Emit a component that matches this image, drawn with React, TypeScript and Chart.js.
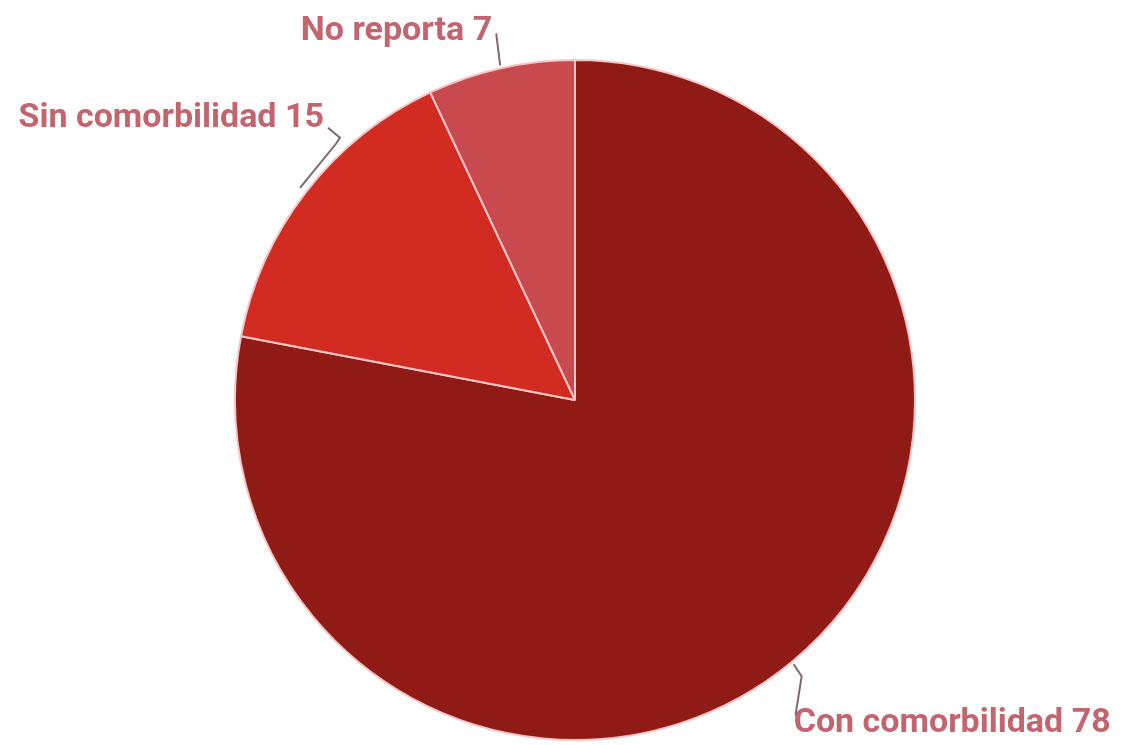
import React, { useEffect, useRef } from "react";
import { Chart, registerables } from "chart.js";

Chart.register(...registerables);

const categories = ["Con comorbilidad", "Sin comorbilidad", "No reporta"];
const values = [78, 15, 7];
const colors = ["#901a16", "#d22c22", "#c94a4e"];

// leader line styling per slice: polyline offsets from the mid-arc anchor, text placement
const labelLayout = [
  { pts: [[0, 0], [8, 12], [2, 50], [5, 56]], tx: 0, ty: 68, align: "left" },
  { pts: [[-4, -2], [32, -46], [36, -52], [24, -62]], tx: 20, ty: -63, align: "right" },
  { pts: [[0, 0], [-4, -32]], tx: -8, ty: -25, align: "right" },
];

const labelPlugin = {
  id: "pieLabels",
  afterDraw(chart: any) {
    const meta = chart.getDatasetMeta(0);
    const ctx = chart.ctx;
    ctx.save();
    meta.data.forEach((arc: any, i: number) => {
      const { x, y, outerRadius, startAngle, endAngle } = arc.getProps(
        ["x", "y", "outerRadius", "startAngle", "endAngle"],
        true
      );
      const mid = (startAngle + endAngle) / 2;
      const ax = x + Math.cos(mid) * (outerRadius + 3);
      const ay = y + Math.sin(mid) * (outerRadius + 3);
      const lay = labelLayout[i];
      ctx.strokeStyle = "#7e6672";
      ctx.lineWidth = 2;
      ctx.beginPath();
      lay.pts.forEach((p, k) => {
        if (k === 0) ctx.moveTo(ax + p[0], ay + p[1]);
        else ctx.lineTo(ax + p[0], ay + p[1]);
      });
      ctx.stroke();
      ctx.fillStyle = "#c2656f";
      ctx.font = "bold 34px Roboto";
      ctx.textAlign = lay.align;
      ctx.textBaseline = "alphabetic";
      ctx.fillText(`${categories[i]} ${values[i]}`, ax + lay.tx, ay + lay.ty);
    });
    ctx.restore();
  },
};

export default function App() {
  const ref = useRef<HTMLCanvasElement>(null);
  useEffect(() => {
    if (!ref.current) return;
    const chart = new Chart(ref.current, {
      type: "pie",
      data: {
        labels: categories,
        datasets: [
          {
            data: values,
            backgroundColor: colors,
            borderColor: "#f6c6c6",
            borderWidth: 2,
          },
        ],
      },
      options: {
        animation: false,
        responsive: true,
        maintainAspectRatio: false,
        layout: { padding: { top: 59, bottom: 4, left: 200, right: 178 } },
        plugins: {
          legend: { display: false },
          tooltip: { enabled: false },
        },
      },
      plugins: [labelPlugin],
    });
    return () => chart.destroy();
  }, []);
  return (
    <div style={{ position: "absolute", left: 0, top: 0, width: 1128, height: 745, background: "#fff" }}>
      <canvas ref={ref} />
    </div>
  );
}
